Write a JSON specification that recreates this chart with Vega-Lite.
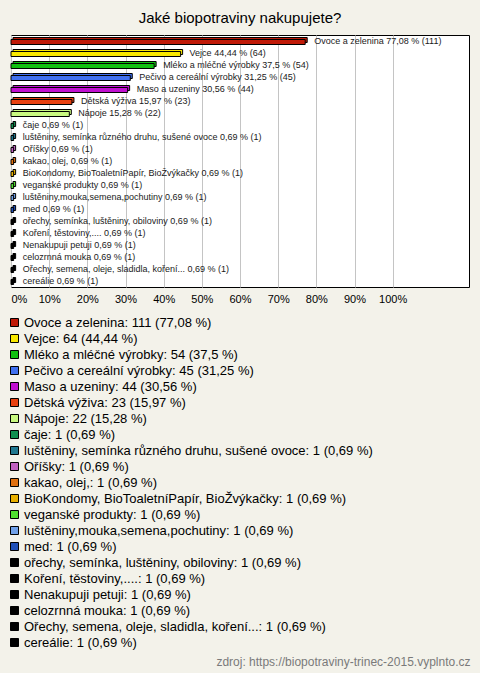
{
  "$schema": "https://vega.github.io/schema/vega-lite/v6.json",
  "autosize": {"type": "none"},
  "width": 458,
  "height": 252,
  "padding": {"left": 11, "top": 35, "right": 11, "bottom": 386},
  "background": "#f3f2ea",
  "title": {
    "text": "Jaké biopotraviny nakupujete?",
    "fontSize": 15,
    "fontWeight": "normal",
    "color": "#000000",
    "anchor": "middle",
    "frame": "group",
    "baseline": "bottom",
    "offset": 8,
    "dy": 14
  },
  "config": {
    "font": "Liberation Sans",
    "view": {"stroke": "#000000", "strokeWidth": 1, "fill": "#ffffff"}
  },
  "data": {
    "values": [
      {"i": 1, "name": "Ovoce a zelenina", "n": 111, "pct": 77.08, "label": "Ovoce a zelenina 77,08 % (111)", "legend": "Ovoce a zelenina: 111 (77,08 %)"},
      {"i": 2, "name": "Vejce", "n": 64, "pct": 44.44, "label": "Vejce 44,44 % (64)", "legend": "Vejce: 64 (44,44 %)"},
      {"i": 3, "name": "Mléko a mléčné výrobky", "n": 54, "pct": 37.5, "label": "Mléko a mléčné výrobky 37,5 % (54)", "legend": "Mléko a mléčné výrobky: 54 (37,5 %)"},
      {"i": 4, "name": "Pečivo a cereální výrobky", "n": 45, "pct": 31.25, "label": "Pečivo a cereální výrobky 31,25 % (45)", "legend": "Pečivo a cereální výrobky: 45 (31,25 %)"},
      {"i": 5, "name": "Maso a uzeniny", "n": 44, "pct": 30.56, "label": "Maso a uzeniny 30,56 % (44)", "legend": "Maso a uzeniny: 44 (30,56 %)"},
      {"i": 6, "name": "Dětská výživa", "n": 23, "pct": 15.97, "label": "Dětská výživa 15,97 % (23)", "legend": "Dětská výživa: 23 (15,97 %)"},
      {"i": 7, "name": "Nápoje", "n": 22, "pct": 15.28, "label": "Nápoje 15,28 % (22)", "legend": "Nápoje: 22 (15,28 %)"},
      {"i": 8, "name": "čaje", "n": 1, "pct": 0.69, "label": "čaje 0,69 % (1)", "legend": "čaje: 1 (0,69 %)"},
      {"i": 9, "name": "luštěniny, semínka různého druhu, sušené ovoce", "n": 1, "pct": 0.69, "label": "luštěniny, semínka různého druhu, sušené ovoce 0,69 % (1)", "legend": "luštěniny, semínka různého druhu, sušené ovoce: 1 (0,69 %)"},
      {"i": 10, "name": "Oříšky", "n": 1, "pct": 0.69, "label": "Oříšky 0,69 % (1)", "legend": "Oříšky: 1 (0,69 %)"},
      {"i": 11, "name": "kakao, olej,", "n": 1, "pct": 0.69, "label": "kakao, olej, 0,69 % (1)", "legend": "kakao, olej,: 1 (0,69 %)"},
      {"i": 12, "name": "BioKondomy, BioToaletníPapír, BioŽvýkačky", "n": 1, "pct": 0.69, "label": "BioKondomy, BioToaletníPapír, BioŽvýkačky 0,69 % (1)", "legend": "BioKondomy, BioToaletníPapír, BioŽvýkačky: 1 (0,69 %)"},
      {"i": 13, "name": "veganské produkty", "n": 1, "pct": 0.69, "label": "veganské produkty 0,69 % (1)", "legend": "veganské produkty: 1 (0,69 %)"},
      {"i": 14, "name": "luštěniny,mouka,semena,pochutiny", "n": 1, "pct": 0.69, "label": "luštěniny,mouka,semena,pochutiny 0,69 % (1)", "legend": "luštěniny,mouka,semena,pochutiny: 1 (0,69 %)"},
      {"i": 15, "name": "med", "n": 1, "pct": 0.69, "label": "med 0,69 % (1)", "legend": "med: 1 (0,69 %)"},
      {"i": 16, "name": "ořechy, semínka, luštěniny, obiloviny", "n": 1, "pct": 0.69, "label": "ořechy, semínka, luštěniny, obiloviny 0,69 % (1)", "legend": "ořechy, semínka, luštěniny, obiloviny: 1 (0,69 %)"},
      {"i": 17, "name": "Koření, těstoviny,....", "n": 1, "pct": 0.69, "label": "Koření, těstoviny,.... 0,69 % (1)", "legend": "Koření, těstoviny,....: 1 (0,69 %)"},
      {"i": 18, "name": "Nenakupuji petuji", "n": 1, "pct": 0.69, "label": "Nenakupuji petuji 0,69 % (1)", "legend": "Nenakupuji petuji: 1 (0,69 %)"},
      {"i": 19, "name": "celozrnná mouka", "n": 1, "pct": 0.69, "label": "celozrnná mouka 0,69 % (1)", "legend": "celozrnná mouka: 1 (0,69 %)"},
      {"i": 20, "name": "Ořechy, semena, oleje, sladidla, koření...", "n": 1, "pct": 0.69, "label": "Ořechy, semena, oleje, sladidla, koření... 0,69 % (1)", "legend": "Ořechy, semena, oleje, sladidla, koření...: 1 (0,69 %)"},
      {"i": 21, "name": "cereálie", "n": 1, "pct": 0.69, "label": "cereálie 0,69 % (1)", "legend": "cereálie: 1 (0,69 %)"}
    ]
  },
  "encoding": {
    "y": {"field": "i", "type": "ordinal", "axis": null, "scale": {"paddingInner": 0, "paddingOuter": 0}},
    "x": {
      "field": "pct",
      "type": "quantitative",
      "scale": {"domain": [0, 120], "nice": false},
      "axis": {
        "values": [0, 10, 20, 30, 40, 50, 60, 70, 80, 90, 100],
        "labelExpr": "datum.value + '%'",
        "grid": true,
        "gridColor": "#c4c4c4",
        "domain": false,
        "ticks": false,
        "labelPadding": 6,
        "labelFontSize": 11,
        "labelColor": "#000000",
        "labelFlush": 1,
        "title": "zdroj: https://biopotraviny-trinec-2015.vyplnto.cz",
        "titleAnchor": "end",
        "titleAlign": "right",
        "titleX": 459,
        "titleY": 374,
        "titleBaseline": "middle",
        "titleFontSize": 12,
        "titleFontWeight": "normal",
        "titleColor": "#7a7a7a"
      }
    }
  },
  "layer": [
    {
      "mark": {"type": "bar", "size": 5, "xOffset": 2, "yOffset": -1, "stroke": "#000000", "strokeWidth": 1},
      "encoding": {
        "color": {
          "field": "legend",
          "type": "nominal",
          "sort": {"field": "i", "op": "min"},
          "scale": {"range": ["#c01a08", "#f8e800", "#10c010", "#4070f0", "#c010d0", "#e84010", "#c8f880", "#109050", "#207890", "#c060c0", "#e07010", "#e8b000", "#50e030", "#70a0e8", "#2050b8", "#000000", "#000000", "#000000", "#000000", "#000000", "#000000"]},
          "legend": {
            "orient": "none",
            "legendX": -3,
            "legendY": 281,
            "title": null,
            "symbolType": "square",
            "symbolSize": 64,
            "symbolStrokeColor": "#000000",
            "symbolStrokeWidth": 1,
            "symbolOpacity": 1,
            "labelFontSize": 13,
            "labelColor": "#000000",
            "labelLimit": 600,
            "rowPadding": 2,
            "labelOffset": 3,
            "padding": 0
          }
        }
      }
    },
    {
      "mark": {"type": "bar", "size": 5, "yOffset": 1, "stroke": "#000000", "strokeWidth": 1},
      "encoding": {
        "color": {"field": "legend", "type": "nominal", "sort": {"field": "i", "op": "min"}}
      }
    },
    {
      "mark": {"type": "text", "align": "left", "baseline": "middle", "dx": 9, "fontSize": 9, "color": "#1a1a1a"},
      "encoding": {"text": {"field": "label"}}
    }
  ]
}
